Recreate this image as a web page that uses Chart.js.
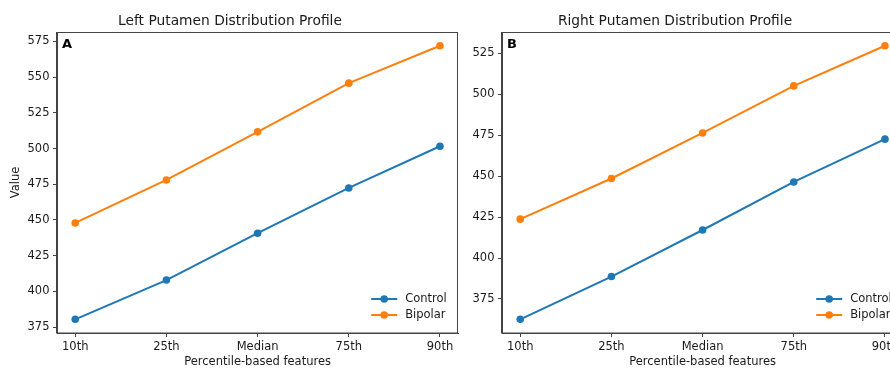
<!DOCTYPE html>
<html>
<head>
<meta charset="utf-8">
<script src="https://cdn.jsdelivr.net/npm/chart.js@4"></script>
<style>
  html, body { margin: 0; padding: 0; background: #fff; width: 890px; height: 369px; overflow: hidden; }
  .wrap { position: absolute; top: 0; width: 462px; height: 369px; }
  #w1 { left: 0; }
  #w2 { left: 445px; }
</style>
</head>
<body>
<div class="wrap" id="w1"><canvas id="c1" width="462" height="369"></canvas></div>
<div class="wrap" id="w2"><canvas id="c2" width="462" height="369"></canvas></div>
<script>
const categories = ['10th', '25th', 'Median', '75th', '90th'];
const seriesNames = ['Control', 'Bipolar'];
const leftControl = [380.4, 407.9, 440.7, 472.4, 501.6];
const leftBipolar = [447.9, 478.0, 511.7, 545.8, 572.0];
const rightControl = [362.6, 388.7, 417.1, 446.4, 472.5];
const rightBipolar = [423.7, 448.5, 476.3, 505.0, 529.5];
const leftYTicks = [375, 400, 425, 450, 475, 500, 525, 550, 575];
const rightYTicks = [375, 400, 425, 450, 475, 500, 525];
const titles = ['Left Putamen Distribution Profile', 'Right Putamen Distribution Profile'];
const panelLetters = ['A', 'B'];

const COLORS = ['#1f77b4', '#ff7f0e'];
const TEXT = '#1a1a1a';
const SPINE = '#444444';
const FONT = "'DejaVu Sans', sans-serif";

const framePlugin = {
  id: 'frame',
  afterDraw(chart, args, opts) {
    const {ctx, chartArea: a} = chart;
    ctx.save();
    ctx.strokeStyle = SPINE;
    ctx.lineWidth = 1;
    ctx.strokeRect(Math.round(a.left) - 0.5, Math.round(a.top) + 0.5, Math.round(a.right - a.left), Math.round(a.bottom - a.top) - 0.5);
    // panel letter
    ctx.fillStyle = '#000';
    ctx.font = 'bold 13px ' + FONT;
    ctx.textAlign = 'left';
    ctx.textBaseline = 'top';
    ctx.fillText(opts.letter, a.left + 5, a.top + 6);
    // legend (lower right, no frame)
    ctx.font = '11.5px ' + FONT;
    ctx.textBaseline = 'middle';
    const ds = chart.data.datasets;
    ds.forEach((d, i) => {
      const y = a.bottom - 18 - (ds.length - 1 - i) * 16;
      const x0 = a.right - 87;
      const x1 = a.right - 61;
      ctx.strokeStyle = d.borderColor;
      ctx.lineWidth = 2;
      ctx.beginPath();
      ctx.moveTo(x0, y);
      ctx.lineTo(x1, y);
      ctx.stroke();
      ctx.fillStyle = d.borderColor;
      ctx.beginPath();
      ctx.arc((x0 + x1) / 2, y, 3.8, 0, Math.PI * 2);
      ctx.fill();
      ctx.fillStyle = TEXT;
      ctx.fillText(d.label, a.right - 53, y);
    });
    ctx.restore();
  }
};

function makeChart(id, title, letter, control, bipolar, yTicks, showYTitle) {
  const all = control.concat(bipolar);
  const lo = Math.min(...all), hi = Math.max(...all);
  const m = (hi - lo) * 0.05;
  const n = categories.length;
  const xm = (n - 1) * 0.05;
  const toPts = arr => arr.map((v, i) => ({x: i, y: v}));
  return new Chart(document.getElementById(id), {
    type: 'line',
    data: {
      datasets: [control, bipolar].map((arr, k) => ({
        label: seriesNames[k],
        data: toPts(arr),
        borderColor: COLORS[k],
        backgroundColor: COLORS[k],
        borderWidth: 2,
        pointRadius: 3.8,
        pointBorderWidth: 0,
        pointHoverRadius: 3.8,
        tension: 0,
        clip: false
      }))
    },
    options: {
      responsive: false,
      animation: false,
      devicePixelRatio: 1,
      layout: {padding: {left: 0, right: 2, top: 0, bottom: 0}},
      plugins: {
        legend: {display: false},
        tooltip: {enabled: false},
        title: {
          display: true,
          text: title,
          color: TEXT,
          font: {family: FONT, size: 13.8, weight: 'normal', lineHeight: 1.2},
          padding: {top: 13, bottom: 2.5}
        },
        frame: {letter: letter}
      },
      scales: {
        x: {
          type: 'linear',
          min: -xm,
          max: (n - 1) + xm,
          afterBuildTicks: axis => { axis.ticks = categories.map((c, i) => ({value: i})); },
          afterFit: axis => { axis.height = 36; },
          ticks: {
            callback: v => categories[v],
            color: TEXT,
            font: {family: FONT, size: 11.5},
            padding: 3.5,
            maxRotation: 0,
            autoSkip: false
          },
          grid: {drawOnChartArea: false, drawTicks: true, tickLength: 4, color: SPINE, tickColor: SPINE},
          border: {display: true, color: SPINE, width: 1},
          title: {
            display: true,
            text: 'Percentile-based features',
            color: TEXT,
            font: {family: FONT, size: 11.5, lineHeight: 1.2},
            padding: {top: 0, bottom: 0}
          }
        },
        y: {
          type: 'linear',
          min: lo - m,
          max: hi + m,
          afterBuildTicks: axis => { axis.ticks = yTicks.map(v => ({value: v})); },
          afterFit: axis => { axis.width = 57; },
          ticks: {
            color: TEXT,
            font: {family: FONT, size: 11.5},
            padding: 3.5
          },
          grid: {drawOnChartArea: false, drawTicks: true, tickLength: 4, color: SPINE, tickColor: SPINE},
          border: {display: true, color: SPINE, width: 1},
          title: {
            display: showYTitle,
            text: 'Value',
            color: TEXT,
            font: {family: FONT, size: 11.5, lineHeight: 1.2},
            padding: {top: 9, bottom: 0}
          }
        }
      }
    },
    plugins: [framePlugin]
  });
}

makeChart('c1', titles[0], panelLetters[0], leftControl, leftBipolar, leftYTicks, true);
makeChart('c2', titles[1], panelLetters[1], rightControl, rightBipolar, rightYTicks, false);
</script>
</body>
</html>
